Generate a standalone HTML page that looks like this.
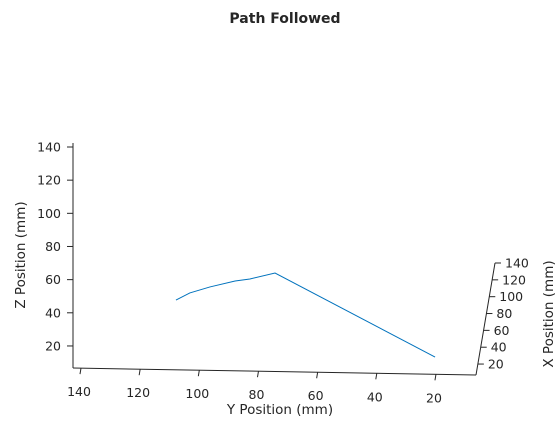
<!DOCTYPE html>
<html><head><meta charset="utf-8"><style>
body{margin:0;background:#fff;font-family:"DejaVu Sans","Liberation Sans",sans-serif}
svg text{font-family:"DejaVu Sans","Liberation Sans",sans-serif;fill:#262626}
</style></head><body>
<svg width="560" height="420" viewBox="0 0 560 420">
<text x="285" y="23" text-anchor="middle" font-size="14" font-weight="bold">Path Followed</text>
<g id="axes" stroke="#262626" stroke-width="1" fill="none"></g>
<g id="labels" font-size="12.5"></g>
<polyline id="path" fill="none" stroke="#0072bd" stroke-width="1"></polyline>
<text transform="translate(25,255) rotate(-90)" text-anchor="middle" font-size="13.5">Z Position (mm)</text>
<text x="280" y="414" text-anchor="middle" font-size="13.5">Y Position (mm)</text>
<text transform="translate(553,314) rotate(-90)" text-anchor="middle" font-size="13.5">X Position (mm)</text>
</svg>
<script>
const pathY=[107.9,103.2,96.4,87.9,82.9,74.4,20.3];
const pathZ=[47.7,52.0,55.6,59.2,60.4,64.0,13.3];
const pathX=[0,0,0,0,0,0,0];
const zTicks=[20,40,60,80,100,120,140];
const yTicks=[140,120,100,80,60,40,20];
const xTicks=[20,40,60,80,100,120,140];
const NS='http://www.w3.org/2000/svg';
function sx(Y){return 81+(140-Y)*2.958;}
function sy(Z){return 147+(140-Z)*1.658;}
function baseY(x){return 368+(x-73)*7/403;}
function xAxisPt(X){return [476+(X-7)*19/133, 375-(X-7)*112/133];}
function mk(tag,attrs,parent){const e=document.createElementNS(NS,tag);for(const k in attrs)e.setAttribute(k,attrs[k]);parent.appendChild(e);return e;}
const ax=document.getElementById('axes'),lb=document.getElementById('labels');
let l=mk('line',{x1:73,y1:143,x2:73,y2:368},ax);

l=mk('line',{x1:73,y1:368,x2:476,y2:375},ax);

l=mk('line',{x1:476,y1:375,x2:495,y2:263},ax);

zTicks.forEach(v=>{const y=sy(v);
 let t=mk('line',{x1:73,y1:y,x2:67,y2:y},ax);
 
 let tx=mk('text',{x:61,y:y+4.5,'text-anchor':'end'},lb);tx.textContent=v;
 });
yTicks.forEach(v=>{const x=sx(v),b=baseY(x);
 let t=mk('line',{x1:x,y1:b,x2:x-1,y2:b+6},ax);
 
 let tx=mk('text',{x:x-2,y:b+28,'text-anchor':'middle'},lb);tx.textContent=v;
 });
xTicks.forEach(v=>{const p=xAxisPt(v);
 let t=mk('line',{x1:p[0],y1:p[1],x2:p[0]+6,y2:p[1]},ax);
 
 let tx=mk('text',{x:p[0]+10,y:p[1]+4.5,'text-anchor':'start'},lb);tx.textContent=v;
 });
document.getElementById('path').setAttribute('points',pathY.map((Y,i)=>sx(Y)+','+(sy(pathZ[i])-pathX[i]*0.84)).join(' '));
</script>
</body></html>
